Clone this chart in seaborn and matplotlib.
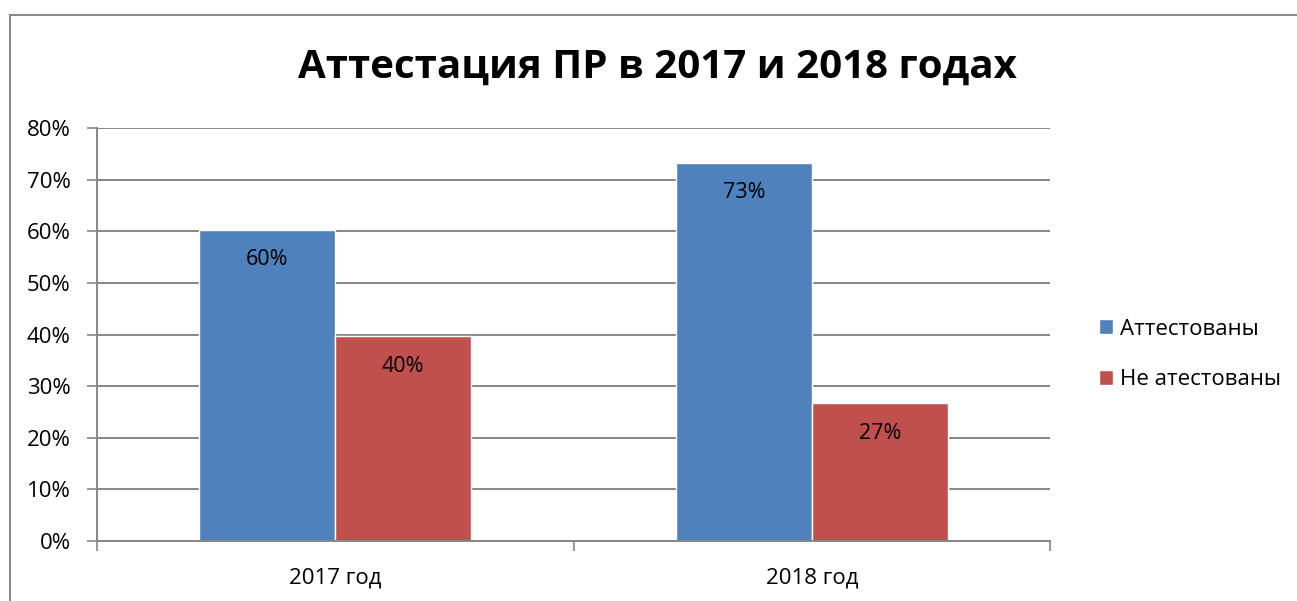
# Аттестация ПР в 2017 и 2018 годах — столбчатая диаграмма

import matplotlib.pyplot as plt
from matplotlib.patches import Rectangle
from matplotlib.ticker import FuncFormatter, MultipleLocator
import pandas as pd
import seaborn as sns


YEARS = ["2017 год", "2018 год"]
GROUPS = ["Аттестованы", "Не атестованы"]
PASSED = [60.3, 73.3]
FAILED = [39.7, 26.7]
LABELS = ["60%", "73%", "40%", "27%"]

COLORS = {"Аттестованы": "#4F81BD", "Не атестованы": "#C0504D"}
GRID = "#868686"


def setup_plot_style() -> None:
    sns.set_theme(style="white")
    plt.rcParams["font.family"] = ["Open Sans", "DejaVu Sans"]
    plt.rcParams["axes.unicode_minus"] = False
    plt.rcParams["text.color"] = "black"
    plt.rcParams["xtick.color"] = "black"
    plt.rcParams["ytick.color"] = "black"


if __name__ == "__main__":
    setup_plot_style()

    df = pd.DataFrame(
        {
            "Год": YEARS * 2,
            "Группа": [GROUPS[0]] * 2 + [GROUPS[1]] * 2,
            "Доля": PASSED + FAILED,
        }
    )

    fig = plt.figure(figsize=(12.97, 6.01), dpi=100)
    ax = fig.add_axes([0.0748, 0.0998, 0.7348, 0.6872])

    sns.barplot(
        data=df,
        x="Год",
        y="Доля",
        hue="Группа",
        order=YEARS,
        hue_order=GROUPS,
        palette=COLORS,
        width=0.57,
        saturation=1,
        ax=ax,
    )

    # подписи значений внутри столбцов
    for container, labels in zip(ax.containers, [LABELS[:2], LABELS[2:]]):
        for patch, text in zip(container.patches, labels):
            ax.annotate(
                text,
                (patch.get_x() + patch.get_width() / 2, patch.get_height()),
                xytext=(0, -30),
                textcoords="offset pixels",
                ha="center",
                va="center",
                fontsize=15.5,
                color="black",
            )

    ax.set_ylim(0, 80)
    ax.set_xlim(-0.5, 1.5)
    ax.yaxis.set_major_locator(MultipleLocator(10))
    ax.yaxis.set_major_formatter(FuncFormatter(lambda v, _: f"{v:.0f}%"))
    ax.yaxis.grid(True, color=GRID, linewidth=1.4)
    ax.set_axisbelow(True)
    ax.set_xlabel("")
    ax.set_ylabel("")

    ax.set_xticks([-0.5, 0.5, 1.5], minor=False)
    ax.set_xticklabels([])
    ax.set_xticks([0, 1], minor=True)
    ax.set_xticklabels(YEARS, minor=True)
    ax.tick_params(axis="x", which="major", length=7, width=1.2, color=GRID, bottom=True)
    ax.tick_params(axis="x", which="minor", length=0, labelsize=16, pad=19, bottom=True)
    ax.tick_params(axis="y", length=7, width=1.2, color=GRID, left=True, labelsize=16, pad=12)

    for side in ["top", "right"]:
        ax.spines[side].set_visible(False)
    for side in ["left", "bottom"]:
        ax.spines[side].set_color(GRID)
        ax.spines[side].set_linewidth(1.4)

    ax.legend(
        loc="center left",
        bbox_to_anchor=(1.03, 0.452),
        frameon=False,
        fontsize=16,
        handlelength=0.65,
        handleheight=0.65,
        handletextpad=0.3,
        labelspacing=1.32,
    )

    fig.text(0.507, 0.888, "Аттестация ПР в 2017 и 2018 годах",
             ha="center", va="center", fontsize=29, fontweight="bold")

    fig.patches.append(
        Rectangle((10 / 1297, -0.1), 1.2, 1 - 15 / 601 + 0.1,
                  transform=fig.transFigure, fill=False,
                  edgecolor=GRID, linewidth=1.4)
    )

    fig.savefig("out.png", dpi=100)
    plt.close(fig)
